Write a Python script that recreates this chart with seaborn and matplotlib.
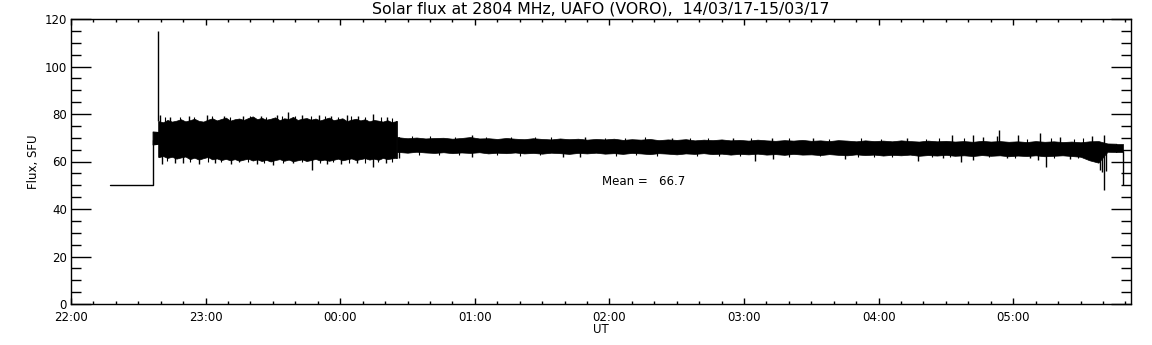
import numpy as np
import pandas as pd
import matplotlib
matplotlib.use("Agg")
import matplotlib.pyplot as plt
import seaborn as sns

# ---------------- data (time in minutes after 22:00 UT, flux in SFU) ----------------
# flat start / step
base_t = [17.4, 36.4, 36.4]
base_v = [50.0, 50.0, 69.0]

# short pre-band segment
pre_t = [36.4, 38.9]
pre_hi = [72.6, 72.4]
pre_lo = [67.2, 67.5]

# burst spike
burst_t = 38.9
burst_v = 115.0

# noisy band 1 (22:39 - 00:25), sampled every 2 min starting at 39
band1_start, band1_step, band1_end = 39.0, 2.0, 145.2
band1_hi = [77.0, 76.5, 77.5, 76.8, 77.2, 77.8, 76.9, 77.4, 78.0, 77.1,
            76.8, 77.6, 78.2, 77.3, 77.9, 78.5, 77.2, 77.8, 78.1, 77.5,
            78.3, 79.0, 77.8, 78.4, 77.6, 78.0, 78.6, 77.4, 78.2, 77.9,
            78.8, 77.5, 78.0, 78.3, 77.6, 78.1, 77.3, 77.9, 78.5, 77.4,
            77.8, 78.2, 77.0, 77.6, 78.0, 77.3, 77.8, 76.9, 77.5, 77.2,
            76.8, 77.4, 76.6, 77.0]
band1_lo = [61.8, 62.3, 61.5, 62.0, 61.2, 61.7, 62.1, 61.0, 61.6, 60.8,
            61.4, 61.9, 60.9, 61.3, 60.6, 61.1, 60.5, 61.0, 60.3, 60.8,
            61.2, 60.4, 60.9, 60.2, 60.7, 60.0, 60.6, 61.0, 60.3, 60.8,
            60.1, 60.5, 60.9, 60.2, 60.6, 61.1, 60.4, 60.8, 60.3, 60.7,
            61.2, 60.5, 60.9, 61.3, 60.6, 61.0, 61.4, 60.8, 61.2, 60.7,
            61.5, 61.0, 61.3, 61.6]

# quieter band 2 (00:25 - 05:49), sampled every 4 min starting at 146
band2_start, band2_step, band2_end = 146.0, 4.0, 469.0
band2_hi = [70.2, 69.8, 70.1, 69.7, 69.9, 70.0, 69.6, 69.9, 70.3, 69.7,
            69.8, 69.5, 69.9, 69.6, 69.4, 69.8, 69.5, 69.3, 69.7, 69.4,
            69.6, 69.2, 69.5, 69.3, 69.6, 69.1, 69.4, 69.2, 69.5, 69.0,
            69.3, 69.1, 69.4, 68.9, 69.2, 69.0, 69.3, 68.9, 69.1, 68.8,
            69.2, 68.9, 68.7, 69.0, 68.8, 69.1, 68.7, 68.9, 68.6, 69.0,
            68.8, 68.5, 68.9, 68.6, 68.8, 68.5, 68.9, 68.6, 68.4, 68.8,
            68.5, 68.7, 68.4, 68.6, 68.3, 68.7, 68.4, 68.6, 68.3, 68.5,
            68.2, 68.6, 68.3, 68.5, 68.2, 68.4, 68.1, 68.5, 68.6, 67.6,
            67.5]
band2_lo = [64.0, 63.7, 64.1, 63.8, 63.6, 63.9, 63.5, 63.8, 63.6, 63.9,
            63.4, 63.7, 63.5, 63.8, 63.4, 63.6, 63.3, 63.7, 63.5, 63.2,
            63.6, 63.4, 63.7, 63.3, 63.5, 63.2, 63.6, 63.4, 63.1, 63.5,
            63.3, 63.0, 63.4, 63.2, 63.5, 63.1, 63.3, 62.9, 63.2, 63.0,
            63.3, 62.9, 63.1, 62.8, 63.2, 62.9, 63.0, 62.7, 63.1, 62.8,
            62.6, 63.0, 62.7, 62.9, 62.5, 62.8, 62.6, 62.9, 62.4, 62.7,
            62.5, 62.8, 62.4, 62.6, 62.3, 62.7, 62.4, 62.6, 62.2, 62.5,
            62.3, 62.6, 62.2, 62.4, 62.6, 62.3, 62.0, 60.5, 59.5, 64.1,
            64.0]

# isolated spikes (time, extreme value)
spike_up_t = [39.7, 44.0, 52.5, 60.5, 68.0, 76.7, 84.5, 91.7, 96.8, 103.0,
              110.5, 116.0, 122.9, 128.0, 134.6, 141.0,
              178.6, 229.0, 268.0, 295.0, 312.3, 330.8, 372.5, 392.9, 402.2,
              406.7, 412.7, 413.8, 422.2, 432.0, 441.0, 455.0, 460.5]
spike_up_v = [79.5, 78.8, 79.0, 79.5, 79.2, 79.0, 79.3, 79.5, 81.0, 79.4,
              79.6, 79.1, 79.6, 79.0, 80.0, 78.8,
              71.3, 70.2, 70.1, 70.0, 69.9, 69.8, 70.0, 71.2, 71.0,
              70.5, 70.8, 73.3, 71.0, 71.9, 70.4, 70.6, 71.0]
spike_dn_t = [40.4, 46.5, 50.0, 57.0, 64.0, 71.5, 82.8, 90.0, 99.0, 107.4,
              114.0, 120.5, 127.5, 134.7, 140.5,
              146.2, 178.6, 219.2, 227.0, 305.0, 313.0, 345.0, 377.6, 388.7,
              396.6, 402.0, 417.4, 427.5, 431.0, 434.6, 445.3,
              458.5, 459.5, 460.5, 461.5, 469.0]
spike_dn_v = [59.0, 59.4, 59.3, 59.0, 59.5, 59.1, 58.8, 58.5, 59.2, 56.4,
              59.0, 58.9, 59.3, 57.8, 59.4,
              61.5, 61.8, 61.8, 62.0, 60.3, 61.0, 61.2, 60.3, 61.3,
              59.7, 60.8, 61.3, 61.3, 60.5, 57.5, 61.0,
              56.5, 55.5, 48.0, 56.0, 50.0]

# small fringe spikes along the band edges
fringe_up_t = [42.0, 48.5, 55.0, 63.0, 71.0, 80.0, 87.0, 94.0, 100.0, 107.0,
               113.0, 119.0, 125.0, 131.0, 138.0, 143.0,
               152.0, 160.0, 171.0, 185.0, 196.0, 207.0, 214.0, 238.0, 247.0,
               256.0, 276.0, 284.0, 303.0, 320.0, 338.0, 352.0, 361.0, 381.0,
               387.0, 398.0, 426.0, 437.0, 447.0, 451.0]
fringe_up_v = [78.6, 78.9, 78.7, 79.0, 78.8, 79.1, 78.9, 79.2, 79.0, 79.3,
               79.0, 78.9, 79.1, 78.7, 78.8, 78.5,
               70.8, 70.6, 70.5, 70.4, 70.3, 70.5, 70.2, 70.1, 70.0,
               70.2, 69.9, 70.0, 69.8, 69.7, 69.6, 69.8, 69.5, 69.6,
               69.9, 69.7, 69.5, 69.8, 69.6, 69.7]
fringe_dn_t = [43.0, 53.0, 61.0, 67.0, 75.0, 79.0, 86.0, 94.5, 103.0, 111.0,
               117.0, 124.0, 131.0, 137.0, 143.0,
               155.0, 164.0, 173.0, 190.0, 200.0, 209.0, 243.0, 252.0, 261.0,
               279.0, 289.0, 298.0, 320.0, 334.0, 351.0, 358.0, 366.0, 384.0,
               392.0, 409.0, 421.0, 438.0, 449.0, 453.0]
fringe_dn_v = [60.2, 59.8, 60.0, 59.7, 59.6, 59.9, 59.5, 59.4, 59.6, 59.3,
               59.7, 59.5, 59.2, 59.6, 60.0,
               62.8, 62.9, 62.6, 62.7, 62.5, 62.8, 62.4, 62.6, 62.3,
               62.5, 62.2, 62.4, 62.1, 62.3, 61.9, 62.0, 61.8, 61.7,
               61.9, 61.8, 61.6, 61.5, 61.4, 61.6]

mean_text = "Mean =   66.7"
mean_pos = (236.6, 51.5)

title = "Solar flux at 2804 MHz, UAFO (VORO),  14/03/17-15/03/17"
xtick_pos = [0, 60, 120, 180, 240, 300, 360, 420]
xtick_lab = ["22:00", "23:00", "00:00", "01:00", "02:00", "03:00", "04:00", "05:00"]

# ---------------- plotting ----------------
sns.set_style("ticks")
plt.rcParams["font.family"] = ["DejaVu Sans"]
plt.rcParams["text.color"] = "black"
plt.rcParams["axes.labelcolor"] = "black"

fig = plt.figure(figsize=(11.52, 3.45), dpi=100)
ax = fig.add_axes([71 / 1152, 41 / 345, 1060 / 1152, 285 / 345])

# baseline and step
df_base = pd.DataFrame({"t": base_t, "v": base_v})
sns.lineplot(data=df_base, x="t", y="v", ax=ax, color="black", lw=1.0,
             sort=False, estimator=None)

# pre-band
ax.fill_between(pre_t, pre_lo, pre_hi, color="black", lw=0.8)

# band 1
t1 = band1_start + band1_step * np.arange(len(band1_hi))
ax.fill_between(t1, band1_lo, band1_hi, color="black", lw=0.5)
ax.fill_between([38.9, t1[0]], [band1_lo[0]] * 2, [band1_hi[0]] * 2, color="black", lw=0.5)
ax.fill_between([t1[-1], band1_end], [band1_lo[-1]] * 2, [band1_hi[-1]] * 2, color="black", lw=0.5)

# band 2
t2 = band2_start + band2_step * np.arange(len(band2_hi))
ax.fill_between(t2, band2_lo, band2_hi, color="black", lw=0.5)
ax.fill_between([band1_end, t2[0]], [band2_lo[0]] * 2, [band2_hi[0]] * 2, color="black", lw=0.5)
ax.fill_between([t2[-1], band2_end], [band2_lo[-1]] * 2, [band2_hi[-1]] * 2, color="black", lw=0.5)

# burst spike
ax.vlines(burst_t, band1_hi[0], burst_v, color="black", lw=1.0)

def level_at(t, which):
    if t < band1_end:
        tt, arr = t1, (band1_hi if which == "hi" else band1_lo)
    else:
        tt, arr = t2, (band2_hi if which == "hi" else band2_lo)
    return float(np.interp(t, tt, arr))

for ts, vs, lw in [(spike_up_t, spike_up_v, 1.0), (fringe_up_t, fringe_up_v, 0.8)]:
    for t, v in zip(ts, vs):
        ax.vlines(t, level_at(t, "hi") - 0.5, v, color="black", lw=lw)
for ts, vs, lw in [(spike_dn_t, spike_dn_v, 1.0), (fringe_dn_t, fringe_dn_v, 0.8)]:
    for t, v in zip(ts, vs):
        ax.vlines(t, v, level_at(t, "lo") + 0.5, color="black", lw=lw)

ax.text(mean_pos[0], mean_pos[1], mean_text, ha="left", va="center", fontsize=8.5)

ax.set_xlim(0, 472.5)
ax.set_ylim(0, 120)
ax.set_xticks(xtick_pos)
ax.set_xticklabels(xtick_lab)
ax.set_xticks(np.arange(0, 472.5, 10), minor=True)
ax.set_yticks(np.arange(0, 121, 20))
ax.set_yticks(np.arange(0, 121, 5), minor=True)

ax.tick_params(axis="both", which="both", direction="in", colors="black",
               labelsize=8.5, width=1.0)
ax.tick_params(axis="x", which="major", length=4.0, top=True, pad=5)
ax.tick_params(axis="x", which="minor", length=2.0, top=True)
ax.tick_params(axis="y", which="major", length=14.4, right=True, pad=3)
ax.tick_params(axis="y", which="minor", length=7.2, right=True)

for s in ax.spines.values():
    s.set_visible(True)
    s.set_linewidth(1.0)
    s.set_color("black")

ax.set_title(title, fontsize=11.3, pad=4, color="black")
ax.set_xlabel("UT", fontsize=8.5, labelpad=-1)
ax.set_ylabel("Flux, SFU", fontsize=8.5, labelpad=3.5)

fig.savefig("out.png", dpi=100, facecolor="white")
